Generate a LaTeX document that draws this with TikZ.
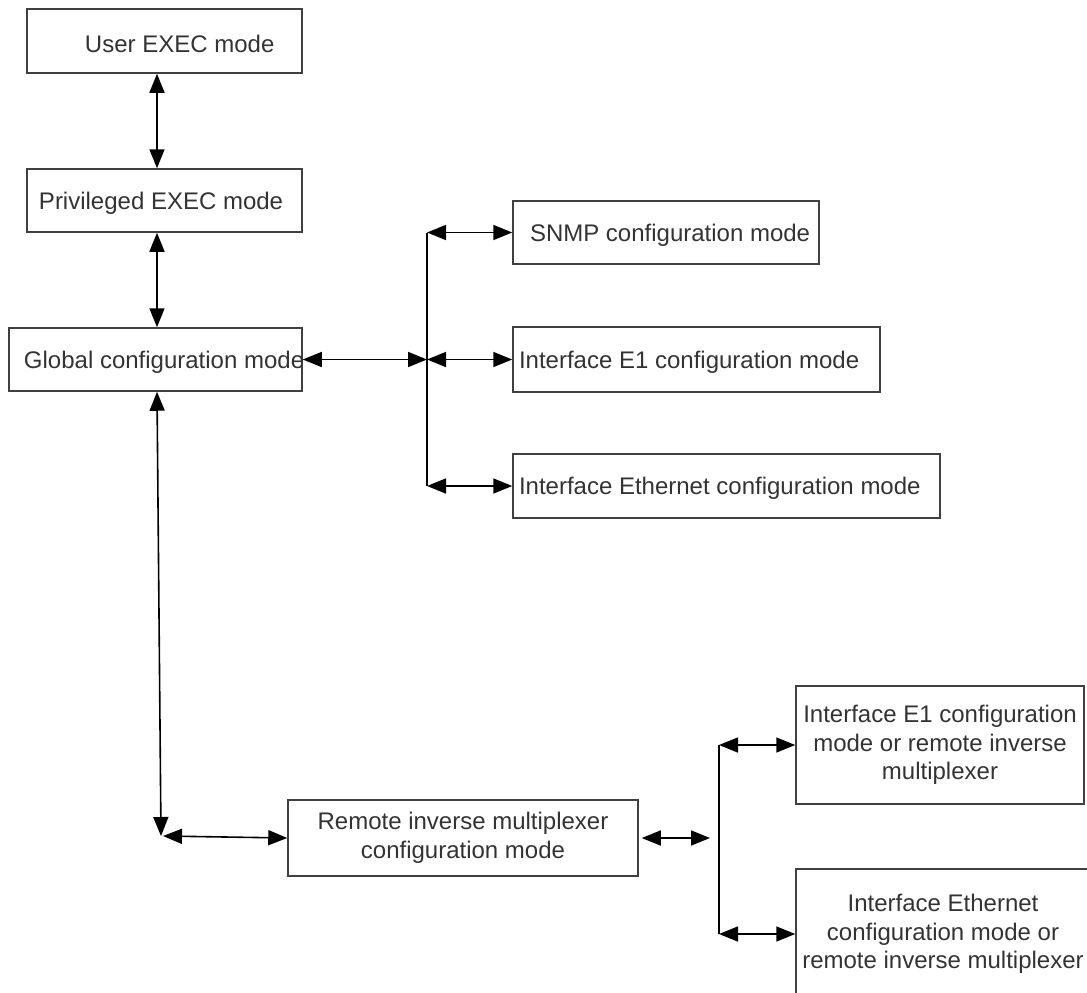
\documentclass[tikz,border=0pt]{standalone}
\usepackage{fontspec}
\setmainfont{Liberation Sans}
\usetikzlibrary{arrows.meta}
\tikzset{
  modebox/.style={draw=black!75, line width=1.5pt, inner sep=0pt, text=black!80,
    font=\fontsize{24}{28.5}\selectfont},
  onebox/.style={modebox, text height=17pt, text depth=0pt},
  biarrow/.style={line width=1.6pt, {Triangle[length=19pt,width=15pt]}-{Triangle[length=19pt,width=15pt]}},
  busline/.style={line width=1.6pt},
}
\newcommand{\boxline}[3]{\makebox[#1][l]{\hspace*{#2}#3}}
\begin{document}
\begin{tikzpicture}[x=1pt, y=-1pt]
	\useasboundingbox (0,0) rectangle (1087,993);
	\clip (0,0) rectangle (1087,993);
	% left column
	\node[onebox, text height=23.4pt, minimum width=275pt, minimum height=64pt] (user) at (164.5,41) {\boxline{275pt}{58pt}{User EXEC mode}};
	\node[onebox, minimum width=275pt, minimum height=63pt] (priv) at (164.5,200.5) {\boxline{275pt}{12pt}{Privileged EXEC mode}};
	\node[onebox, minimum width=293pt, minimum height=63pt] (global) at (155.5,359.5) {\boxline{293pt}{15pt}{Global configuration mode}};
	% right column
	\node[onebox, minimum width=306pt, minimum height=63pt] (snmp) at (666,232.5) {\boxline{306pt}{17pt}{SNMP configuration mode}};
	\node[onebox, minimum width=367pt, minimum height=65pt] (ifeone) at (696.5,359.5) {\boxline{367pt}{6pt}{Interface E1 configuration mode}};
	\node[onebox, minimum width=427pt, minimum height=64pt] (ifeth) at (726.5,486) {\boxline{427pt}{6pt}{Interface Ethernet configuration mode}};
	% remote part
	\node[modebox, minimum width=350pt, minimum height=76pt, align=center] (remote) at (463,838) {Remote inverse multiplexer\\configuration mode};
	\node[modebox, minimum width=288pt, minimum height=118pt, align=center] (rifeone) at (940,745) {Interface E1 configuration\\mode or remote inverse\\multiplexer};
	\node[modebox, minimum width=294pt, minimum height=130pt, align=center] (rifeth) at (943,934) {Interface Ethernet\\configuration mode or\\remote inverse multiplexer};

	\coordinate (trunk) at (157,0);
	\coordinate (busa) at (427,0);
	\coordinate (busb) at (719,0);
	\coordinate (corner) at (161,836);
	\coordinate (gap) at (710,838);

	\draw[biarrow] (user.south -| trunk) -- (priv.north -| trunk);
	\draw[biarrow] (priv.south -| trunk) -- (global.north -| trunk);
	\draw[biarrow] (global.east) -- (global.east -| busa);
	\draw[busline] (snmp.west -| busa) -- (ifeth.west -| busa);
	\draw[biarrow] (snmp.west -| busa) -- (snmp.west);
	\draw[biarrow] (ifeone.west -| busa) -- (ifeone.west);
	\draw[biarrow] (ifeth.west -| busa) -- (ifeth.west);

	\draw[biarrow] (global.south -| trunk) -- (corner);
	\draw[biarrow] ([xshift=2pt]corner) -- (remote.west);
	\draw[biarrow] ([xshift=3pt]remote.east) -- (gap);
	\draw[busline] (rifeone.west -| busb) -- (rifeth.west -| busb);
	\draw[biarrow] (rifeone.west -| busb) -- (rifeone.west);
	\draw[biarrow] (rifeth.west -| busb) -- (rifeth.west);
\end{tikzpicture}
\end{document}
